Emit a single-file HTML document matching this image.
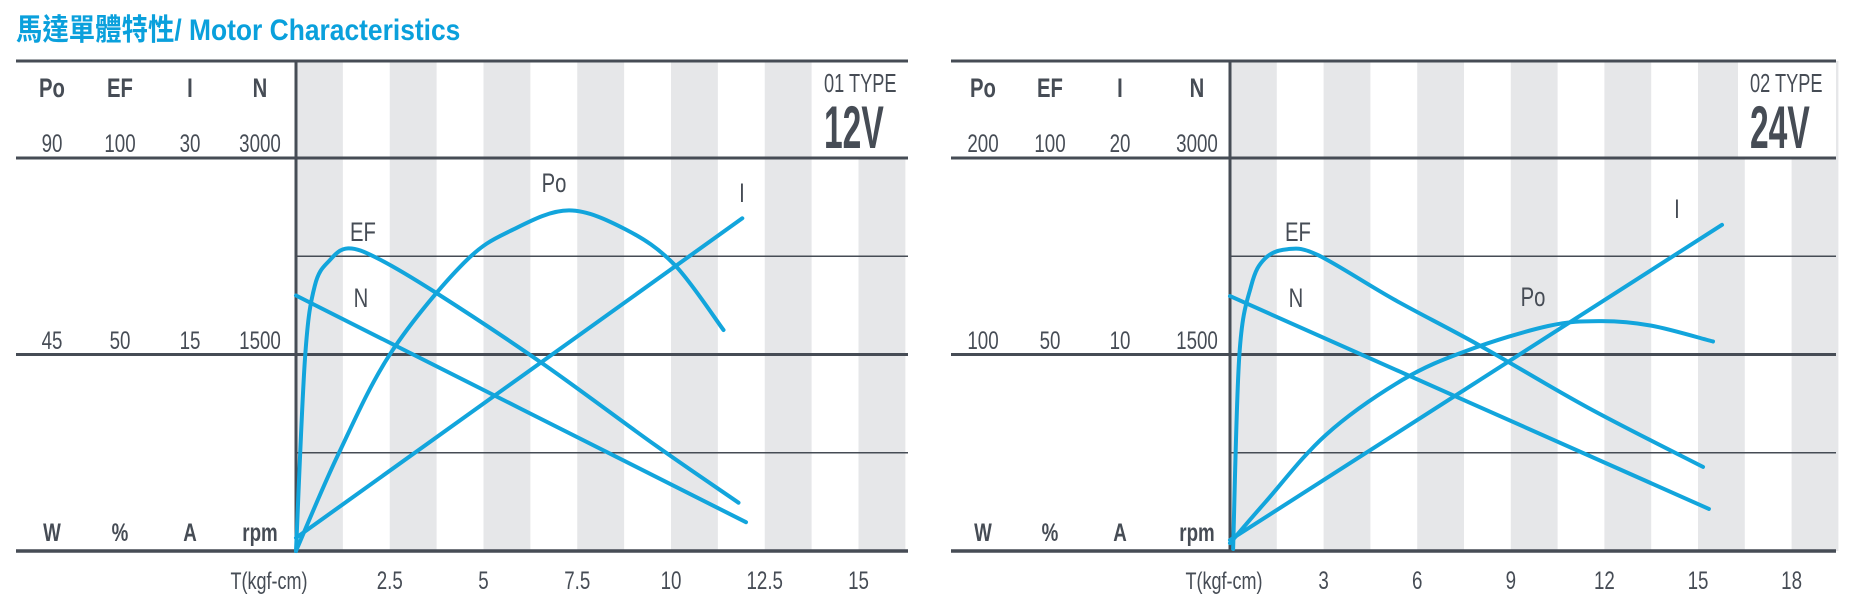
<!DOCTYPE html>
<html><head><meta charset="utf-8"><style>
html,body{margin:0;padding:0;background:#fff;}
svg{display:block;font-family:"Liberation Sans","Noto Sans CJK TC",sans-serif;}
</style></head><body>
<svg id="svg" width="1850" height="602" viewBox="0 0 1850 602" xmlns="http://www.w3.org/2000/svg">
<text x="16" y="40" font-size="30" font-weight="bold" fill="#0aa0dc" font-family="Liberation Sans, Noto Sans CJK TC, sans-serif" transform="translate(16,0) scale(0.88,1) translate(-16,0)">馬達單體特性/ Motor Characteristics</text>
</svg>
<script>
// ---- Chart 1: 12V (01 TYPE) ----
const c1Ticks = [2.5, 5, 7.5, 10, 12.5, 15];
const c1Header = ["Po", "EF", "I", "N"];
const c1Max = ["90", "100", "30", "3000"];
const c1Mid = ["45", "50", "15", "1500"];
const c1Units = ["W", "%", "A", "rpm"];
const c1PoT = [0, 1.12, 2.53, 4.48, 5.79, 7.28, 8.8, 10.1, 11.4];
const c1PoV = [0, 22, 45.4, 66, 73.6, 78, 73.6, 65.5, 50.6];
const c1EfT = [0, 0.24, 0.5, 0.9, 1.39, 2.19, 3.7, 6.53, 9.57, 11.8];
const c1EfV = [0, 49, 67.5, 74, 77, 74.4, 65.9, 48, 27, 12.3];
const c1IT = [0, 11.9];
const c1IV = [1, 25.4];
const c1NT = [0, 12];
const c1NV = [1950, 220];
// ---- Chart 2: 24V (02 TYPE) ----
const c2Ticks = [3, 6, 9, 12, 15, 18];
const c2Header = ["Po", "EF", "I", "N"];
const c2Max = ["200", "100", "20", "3000"];
const c2Mid = ["100", "50", "10", "1500"];
const c2Units = ["W", "%", "A", "rpm"];
const c2PoT = [0, 1.12, 3.08, 5.5, 7.6, 10.2, 11.87, 13.5, 15.48];
const c2PoV = [4, 24.6, 59.2, 86.8, 102, 114.5, 117, 114.7, 106.6];
const c2EfT = [0.1, 0.3, 0.68, 1.12, 1.84, 2.82, 5.26, 7.98, 11.47, 15.16];
const c2EfV = [0.5, 50, 67.5, 74.4, 76.8, 75.3, 64, 52.4, 36.5, 21.4];
const c2IT = [0, 15.77];
const c2IV = [0.56, 16.6];
const c2NT = [0, 15.35];
const c2NV = [1946, 321];

const NS = "http://www.w3.org/2000/svg";
const svg = document.getElementById("svg");
const DARK = "#464c55", BLUE = "#12a5dc", GRAY = "#e6e7e9";

function mk(tag, attrs, parent) {
  const e = document.createElementNS(NS, tag);
  for (const k in attrs) e.setAttribute(k, attrs[k]);
  (parent || svg).appendChild(e);
  return e;
}
function txt(parent, x, y, s, size, anchor, sx, name, bold) {
  const e = mk("text", {x: x / sx, y: y, "font-size": size, fill: DARK, "text-anchor": anchor, transform: "scale(" + sx + ",1)", "font-weight": bold ? "bold" : "normal"}, parent);
  
  
  e.textContent = s;
  return e;
}
function smoothPath(pts) {
  let d = "M" + pts[0][0].toFixed(1) + "," + pts[0][1].toFixed(1);
  for (let i = 0; i < pts.length - 1; i++) {
    const p0 = pts[Math.max(0, i - 1)], p1 = pts[i], p2 = pts[i + 1], p3 = pts[Math.min(pts.length - 1, i + 2)];
    const c1x = p1[0] + (p2[0] - p0[0]) / 6, c1y = p1[1] + (p2[1] - p0[1]) / 6;
    const c2x = p2[0] - (p3[0] - p1[0]) / 6, c2y = p2[1] - (p3[1] - p1[1]) / 6;
    d += " C" + c1x.toFixed(1) + "," + c1y.toFixed(1) + " " + c2x.toFixed(1) + "," + c2y.toFixed(1) + " " + p2[0].toFixed(1) + "," + p2[1].toFixed(1);
  }
  return d;
}

function drawChart(cfg) {
  const g = mk("g", {});
  
  
  const L = cfg.left, P = cfg.plotLeft, R = cfg.right;
  const yTop = 61, yHead = 158, yBot = 551;
  const stripeUnits = cfg.stripeUnits, pxPerUnit = cfg.pxPerUnit;
  const xS = t => P + t * pxPerUnit;
  const yS = (v, max) => yBot - (v / max) * (yBot - yHead);
  const nStripes = Math.round((R - P) / (stripeUnits * pxPerUnit));
  for (let i = 0; i < nStripes; i += 2) {
    const r = mk("rect", {x: xS(i * stripeUnits), y: yTop, width: stripeUnits * pxPerUnit, height: yBot - yTop, fill: GRAY}, g);
    
    
  }
  const box = mk("rect", {x: cfg.boxX, y: yTop, width: R - cfg.boxX, height: yHead - yTop, fill: "#fff"}, g);
  
  
  txt(g, cfg.boxX + 12, 92, cfg.typeLabel, 26, "start", 0.7, "type-label", false);
  txt(g, cfg.boxX + 12, 148, cfg.voltLabel, 60, "start", 0.56, "voltage-label", true);
  const hl = (y, x1, w, name) => { const l = mk("line", {x1: x1, x2: R, y1: y, y2: y, stroke: DARK, "stroke-width": w}, g);   };
  hl(yTop, L, 3, "top-border");
  hl(yHead, L, 3, "header-line");
  hl((yHead + yBot) / 2, L, 3, "mid-grid-line");
  hl(yHead + (yBot - yHead) / 4, P, 1.5, "upper-quarter-grid-line");
  hl(yBot - (yBot - yHead) / 4, P, 1.5, "lower-quarter-grid-line");
  hl(yBot, L, 3.5, "x-axis-line");
  const ax = mk("line", {x1: P, x2: P, y1: yTop, y2: yBot, stroke: DARK, "stroke-width": 3}, g);
  
  
  cfg.cols.forEach((cx, i) => {
    txt(g, cx, 97, cfg.header[i], 27, "middle", 0.75, "series-header", true);
    txt(g, cx, 152, cfg.max[i], 25, "middle", 0.75, "scale-max-label", false);
    txt(g, cx, 349, cfg.mid[i], 25, "middle", 0.75, "scale-mid-label", false);
    txt(g, cx, 541, cfg.units[i], 25, "middle", 0.75, "unit-label", true);
  });
  txt(g, cfg.tLabelX, 589, "T(kgf-cm)", 24, "middle", 0.75, "x-axis-title", false);
  cfg.ticks.forEach(t => txt(g, xS(t), 589, String(t), 25, "middle", 0.75, "x-tick-label", false));
  cfg.series.forEach(s => {
    const pts = s.t.map((t, i) => [xS(t), yS(s.v[i], s.max)]);
    const p = mk("path", {d: smoothPath(pts), fill: "none", stroke: BLUE, "stroke-width": 4, "stroke-linecap": "round", "stroke-linejoin": "round"}, g);
    
    
  });
  cfg.labels.forEach(l => txt(g, l[0], l[1], l[2], 27, "middle", 0.75, "curve-label", false));
}

drawChart({
  name: "chart-12v", left: 16, plotLeft: 296, right: 908, boxX: 812,
  stripeUnits: 1.25, pxPerUnit: 37.5,
  typeLabel: "01 TYPE", voltLabel: "12V",
  cols: [52, 120, 190, 260], header: c1Header, max: c1Max, mid: c1Mid, units: c1Units,
  ticks: c1Ticks, tLabelX: 269,
  series: [
    {name: "po-curve", t: c1PoT, v: c1PoV, max: 90},
    {name: "ef-curve", t: c1EfT, v: c1EfV, max: 100},
    {name: "i-line", t: c1IT, v: c1IV, max: 30},
    {name: "n-line", t: c1NT, v: c1NV, max: 3000}
  ],
  labels: [[554, 192, "Po"], [742, 202, "I"], [363, 241, "EF"], [361, 307, "N"]]
});
drawChart({
  name: "chart-24v", left: 951, plotLeft: 1230, right: 1836, boxX: 1738,
  stripeUnits: 1.5, pxPerUnit: 31.2,
  typeLabel: "02 TYPE", voltLabel: "24V",
  cols: [983, 1050, 1120, 1197], header: c2Header, max: c2Max, mid: c2Mid, units: c2Units,
  ticks: c2Ticks, tLabelX: 1224,
  series: [
    {name: "po-curve", t: c2PoT, v: c2PoV, max: 200},
    {name: "ef-curve", t: c2EfT, v: c2EfV, max: 100},
    {name: "i-line", t: c2IT, v: c2IV, max: 20},
    {name: "n-line", t: c2NT, v: c2NV, max: 3000}
  ],
  labels: [[1677, 218, "I"], [1298, 241, "EF"], [1296, 307, "N"], [1533, 306, "Po"]]
});
</script>
</body></html>
